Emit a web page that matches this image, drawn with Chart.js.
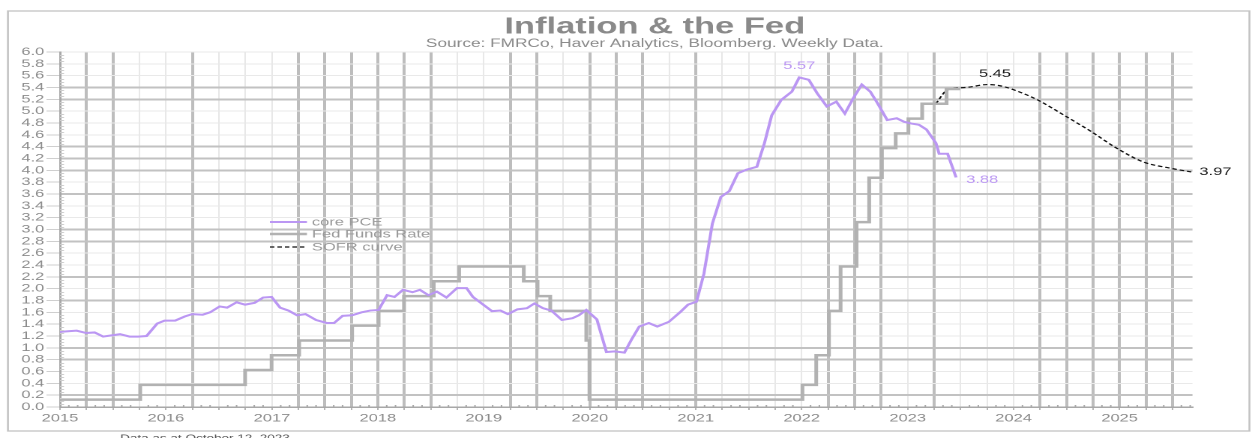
<!DOCTYPE html>
<html><head><meta charset="utf-8">
<script src="https://cdn.jsdelivr.net/npm/chart.js@4.4.0/dist/chart.umd.min.js"></script>
<style>
html,body{margin:0;padding:0;background:#fff;overflow:hidden;width:1258px;height:438px}
#wrap{position:absolute;left:0;top:0;width:839px;height:438px;transform:scaleX(1.4994);transform-origin:0 0}
</style></head><body>
<div id="wrap"><canvas id="c" width="839" height="438"></canvas></div>
<script>
// ---------------- data ----------------
const pceT = [2015.20,2015.28,2015.36,2015.45,2015.53,2015.61,2015.69,2015.77,2015.86,2015.94,
  2016.02,2016.12,2016.19,2016.29,2016.38,2016.45,2016.55,2016.62,2016.71,2016.78,2016.87,2016.95,
  2017.04,2017.12,2017.20,2017.28,2017.36,2017.44,2017.52,2017.62,2017.72,2017.79,2017.87,2017.96,
  2018.05,2018.13,2018.21,2018.29,2018.36,2018.44,2018.53,2018.60,2018.68,2018.76,2018.85,2018.95,
  2019.04,2019.10,2019.19,2019.28,2019.36,2019.43,2019.52,2019.61,2019.68,2019.76,2019.84,2019.94,
  2020.04,2020.10,2020.17,2020.27,2020.36,2020.44,2020.53,2020.60,2020.67,2020.76,2020.84,2020.95,
  2021.06,2021.13,2021.21,2021.28,2021.36,2021.44,2021.52,2021.60,2021.68,2021.78,2021.85,2021.92,
  2022.01,2022.11,2022.18,2022.27,2022.35,2022.44,2022.53,2022.61,2022.69,2022.77,2022.85,2022.92,
  2023.01,2023.10,2023.17,2023.24,2023.31,2023.38,2023.47,2023.50,2023.58,2023.66];
const pceV = [1.27,1.28,1.29,1.25,1.26,1.19,1.21,1.23,1.19,1.19,
  1.20,1.41,1.46,1.46,1.53,1.57,1.56,1.60,1.70,1.68,1.77,1.73,
  1.76,1.85,1.86,1.68,1.63,1.55,1.57,1.47,1.42,1.42,1.54,1.55,
  1.60,1.63,1.64,1.89,1.86,1.98,1.94,1.98,1.89,1.95,1.85,2.01,
  2.01,1.86,1.74,1.62,1.63,1.57,1.65,1.67,1.75,1.67,1.63,1.47,
  1.50,1.55,1.64,1.48,0.93,0.94,0.92,1.15,1.36,1.42,1.36,1.44,
  1.61,1.73,1.78,2.25,3.10,3.55,3.65,3.95,4.01,4.06,4.45,4.93,
  5.19,5.33,5.57,5.53,5.30,5.08,5.16,4.96,5.22,5.45,5.33,5.13,
  4.85,4.88,4.82,4.79,4.77,4.69,4.46,4.28,4.28,3.88];

const ffT = [2015.20,2015.96,2016.95,2017.20,2017.46,2017.96,2018.21,2018.45,2018.73,2018.97,
  2019.58,2019.71,2019.83,2020.17,2020.20,2022.21,2022.34,2022.46,2022.57,2022.72,2022.84,2022.96,
  2023.09,2023.21,2023.34,2023.57,2023.70];
const ffV = [0.125,0.375,0.625,0.875,1.125,1.375,1.625,1.875,2.125,2.375,
  2.125,1.875,1.625,1.125,0.125,0.375,0.875,1.625,2.375,3.125,3.875,4.375,
  4.625,4.875,5.125,5.375,5.375];

const sofrT = [2023.47,2023.58,2023.75,2023.96,2024.10,2024.25,2024.43,2024.68,2024.94,2025.17,2025.43,2025.67,2025.89];
const sofrV = [5.13,5.36,5.40,5.45,5.42,5.33,5.19,4.93,4.65,4.38,4.14,4.04,3.97];

const yearLabels = ['2015','2016','2017','2018','2019','2020','2021','2022','2023','2024','2025'];
const seriesNames = ['core PCE','Fed Funds Rate','SOFR curve'];
const titleText = 'Inflation & the Fed';
const subtitleText = 'Source: FMRCo, Haver Analytics, Bloomberg. Weekly Data.';
const footText = 'Data as at October 12, 2023';

// ---------------- styling ----------------
const FONT = "'Liberation Sans', Arial, Helvetica, sans-serif";
const X_MIN = 2015.203, X_MAX = 2025.891;
const xTickVals = Array.from({length:43}, (_, k) => X_MIN + 0.25*k);
const thickX = new Set([1,2,5,9,10,11,12,13,14,17,18,20,21,22,24,29,30,31,33,37,38,39,40,41,42]);
const thickY = new Set([1,4,5,9,11,14,15,18,20,21,22,26,27]);
const PURPLE = '#bb97f3';

const decor = {
  id: 'decor',
  beforeDraw(chart) {
    const ctx = chart.ctx;
    ctx.save();
    ctx.fillStyle = '#fff';
    ctx.fillRect(0, 0, chart.width, chart.height);
    ctx.strokeStyle = '#c4c4c4';
    ctx.lineWidth = 1.3;
    ctx.strokeRect(5.3, 11, 828, 420);
    ctx.restore();
  },
  afterDraw(chart) {
    const ctx = chart.ctx, xs = chart.scales.x, ys = chart.scales.y, a = chart.chartArea;
    ctx.save();
    // minor y ticks
    ctx.strokeStyle = '#cdcdcd'; ctx.lineWidth = 1;
    for (let i = 0; i <= 120; i++) {
      if (i % 4 === 0) continue;
      const y = Math.round(ys.getPixelForValue(i*0.05)) + 0.5;
      ctx.beginPath(); ctx.moveTo(a.left, y); ctx.lineTo(a.left + 2.7, y); ctx.stroke();
    }
    // minor x ticks (monthly)
    ctx.strokeStyle = '#a8a8a8';
    for (let k = 0; k < xTickVals.length; k++) {
      for (let m = 1; m <= 2; m++) {
        const t = xTickVals[k] + m/12;
        if (t > X_MAX) continue;
        const x = xs.getPixelForValue(t);
        ctx.beginPath(); ctx.moveTo(x, a.bottom); ctx.lineTo(x, a.bottom - 2); ctx.stroke();
      }
    }
    // value labels
    ctx.font = '11px ' + FONT;
    ctx.textBaseline = 'middle';
    const iMax = pceV.indexOf(Math.max(...pceV));
    ctx.fillStyle = PURPLE; ctx.textAlign = 'center';
    ctx.fillText(pceV[iMax].toFixed(2), xs.getPixelForValue(pceT[iMax]), ys.getPixelForValue(pceV[iMax]) - 11.5);
    const iL = pceV.length - 1;
    ctx.textAlign = 'left';
    ctx.fillText(pceV[iL].toFixed(2), xs.getPixelForValue(pceT[iL]) + 6.7, ys.getPixelForValue(pceV[iL]) + 2.6);
    const sMax = sofrV.indexOf(Math.max(...sofrV));
    ctx.fillStyle = '#1a1a1a'; ctx.textAlign = 'center';
    ctx.fillText(sofrV[sMax].toFixed(2), xs.getPixelForValue(sofrT[sMax]) + 4.7, ys.getPixelForValue(sofrV[sMax]) - 10.5);
    const sL = sofrV.length - 1;
    ctx.textAlign = 'left';
    ctx.fillText(sofrV[sL].toFixed(2), xs.getPixelForValue(sofrT[sL]) + 4.7, ys.getPixelForValue(sofrV[sL]));
    // legend
    const legY = [222, 234, 247];
    chart.data.datasets.forEach((ds, i) => {
      ctx.save();
      ctx.strokeStyle = ds.borderColor;
      ctx.lineWidth = ds.borderWidth;
      ctx.setLineDash(ds.borderDash || []);
      ctx.beginPath(); ctx.moveTo(180, legY[i]); ctx.lineTo(204.7, legY[i]); ctx.stroke();
      ctx.restore();
      ctx.fillStyle = '#9a9a9a'; ctx.textAlign = 'left'; ctx.textBaseline = 'middle';
      ctx.font = '11px ' + FONT;
      ctx.fillText(ds.label, 208, legY[i] + 0.5);
    });
    // titles
    ctx.fillStyle = '#8a8a8a'; ctx.textAlign = 'center'; ctx.textBaseline = 'alphabetic';
    ctx.font = 'bold 23px ' + FONT;
    ctx.fillText(titleText, 436.7, 33.3);
    ctx.font = '11.5px ' + FONT;
    ctx.fillText(subtitleText, 436.7, 47);
    ctx.fillStyle = '#555';
    ctx.font = '9px ' + FONT;
    ctx.fillText(footText, 136.7, 441);
    ctx.restore();
  }
};

const toXY = (T, V) => T.map((t, i) => ({x: t, y: V[i]}));

new Chart(document.getElementById('c'), {
  type: 'line',
  data: {
    datasets: [
      {label: seriesNames[0], data: toXY(pceT, pceV), borderColor: PURPLE, borderWidth: 2,
       pointRadius: 0, tension: 0, order: 0},
      {label: seriesNames[1], data: toXY(ffT, ffV), borderColor: '#b2b2b2', borderWidth: 2.5,
       pointRadius: 0, stepped: 'before', order: 1},
      {label: seriesNames[2], data: toXY(sofrT, sofrV), borderColor: '#111', borderWidth: 1.2,
       borderDash: [3, 2], pointRadius: 0, cubicInterpolationMode: 'monotone', order: 2}
    ]
  },
  options: {
    responsive: false,
    devicePixelRatio: 2,
    animation: false,
    layout: {padding: {left: 0, right: 43.7, top: 52, bottom: 0}},
    plugins: {legend: {display: false}, title: {display: false}, tooltip: {enabled: false}},
    scales: {
      x: {
        type: 'linear', min: X_MIN, max: X_MAX,
        afterBuildTicks(s) { s.ticks = xTickVals.map(v => ({value: v})); },
        afterFit(s) { s.height = 31; },
        ticks: {autoSkip: false, maxRotation: 0, minRotation: 0, padding: 2, color: '#8c8c8c',
                font: {family: FONT, size: 11},
                callback: (v, i) => (i % 4 === 0 ? yearLabels[i/4] : '')},
        grid: {color: c => thickX.has(c.index) ? '#bdbdbd' : '#e8e8e8',
               lineWidth: c => thickX.has(c.index) ? 2 : 1,
               tickLength: 3, tickColor: '#b5b5b5', tickWidth: 1},
        border: {color: '#a8a8a8', width: 1.5}
      },
      y: {
        min: 0, max: 6,
        afterFit(s) { s.width = 40; },
        ticks: {stepSize: 0.2, autoSkip: false, padding: 1.5, color: '#8c8c8c',
                font: {family: FONT, size: 11}, callback: v => Number(v).toFixed(1)},
        grid: {color: c => thickY.has(c.index) ? '#c2c2c2' : '#e9e9e9',
               lineWidth: c => thickY.has(c.index) ? 2 : 1,
               tickLength: 9, tickColor: '#cfcfcf', tickWidth: 1},
        border: {color: '#a8a8a8', width: 1.5}
      }
    }
  },
  plugins: [decor]
});
</script>
</body></html>
